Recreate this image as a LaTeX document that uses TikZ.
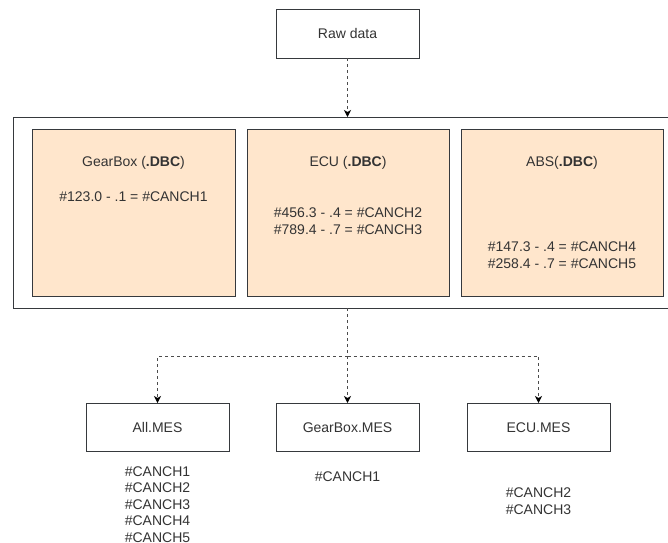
\documentclass[tikz,border=0pt]{standalone}
\usepackage{fontspec}
\setmainfont{Liberation Sans}
\usetikzlibrary{arrows.meta}
\definecolor{peach}{HTML}{FFE6CC}
\definecolor{edge}{HTML}{36393D}
\definecolor{txt}{HTML}{333333}
\begin{document}
\begin{tikzpicture}[x=1pt,y=-1pt,
  box/.style={draw=edge, line width=1pt, inner sep=0pt, outer sep=0pt, fill=white,
    text height=10pt, text depth=0pt, font=\fontsize{14}{16}\selectfont, text=txt},
  dbc/.style={box, fill=peach},
  lbl/.style={inner sep=0pt, text height=10pt, text depth=0pt,
    font=\fontsize{14}{16}\selectfont, text=txt},
  flow/.style={draw=black!70, line width=1pt, dash pattern=on 3pt off 3pt,
    -{Stealth[length=7pt,width=7pt,inset=2pt,black]}}
]
\useasboundingbox (0,0) rectangle (668,542);
\clip (0,0) rectangle (668,542);

% top
\node[box, minimum width=143pt, minimum height=49pt] (raw) at (347.5,33.5) {Raw data};

% container
\node[box, minimum width=669pt, minimum height=191pt] (frame) at (347.5,212.5) {};
\node[dbc, minimum width=203pt, minimum height=167pt] (gb) at (133.5,212.5) {};
\node[dbc, minimum width=202pt, minimum height=167pt] (ecu) at (348,212.5) {};
\node[dbc, minimum width=202pt, minimum height=167pt] (abs) at (562,212.5) {};

\node[lbl] (gbt) at (133.5,161) {GearBox (\textbf{.DBC})};
\node[lbl] (gb1) at (133.5,196) {\#123.0 - .1 = \#CANCH1};
\node[lbl] (ecut) at (348,161) {ECU (\textbf{.DBC})};
\node[lbl] (ecu1) at (348,212) {\#456.3 - .4 = \#CANCH2};
\node[lbl] (ecu2) at (348,229) {\#789.4 - .7 = \#CANCH3};
\node[lbl] (abst) at (562,161) {ABS(\textbf{.DBC})};
\node[lbl] (abs1) at (562,246) {\#147.3 - .4 = \#CANCH4};
\node[lbl] (abs2) at (562,263) {\#258.4 - .7 = \#CANCH5};

% outputs
\node[box, minimum width=143pt, minimum height=48pt] (all) at (157.5,427) {All.MES};
\node[box, minimum width=143pt, minimum height=48pt] (gbm) at (347.5,427) {GearBox.MES};
\node[box, minimum width=143pt, minimum height=48pt] (ecum) at (538.5,427) {ECU.MES};

\node[lbl] (all1) at (157.5,471) {\#CANCH1};
\node[lbl] (all2) at (157.5,487.5) {\#CANCH2};
\node[lbl] (all3) at (157.5,504) {\#CANCH3};
\node[lbl] (all4) at (157.5,520.5) {\#CANCH4};
\node[lbl] (all5) at (157.5,537) {\#CANCH5};
\node[lbl] (gbm1) at (347.5,476) {\#CANCH1};
\node[lbl] (ecum1) at (538.5,492.5) {\#CANCH2};
\node[lbl] (ecum2) at (538.5,509.5) {\#CANCH3};

% connectors
\coordinate (split) at (347.5,356);
\draw[flow] (raw.south) -- (frame.north);
\draw[flow] (frame.south) -- (split) -- (gbm.north);
\draw[flow] (split) -| (all.north);
\draw[flow] (split) -| (ecum.north);
\end{tikzpicture}
\end{document}
